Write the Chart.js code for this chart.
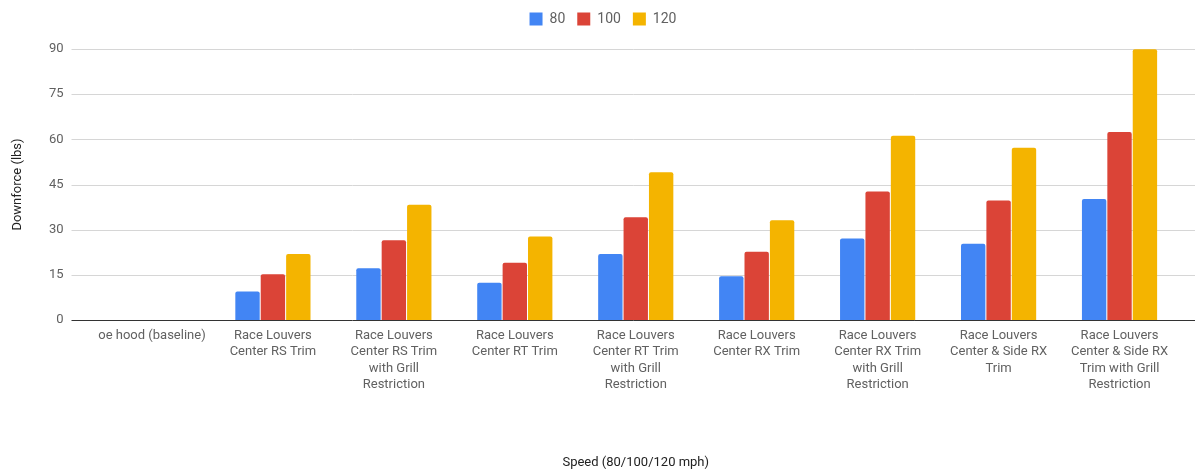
<!DOCTYPE html>
<html>
<head>
<meta charset="utf-8">
<script src="https://cdn.jsdelivr.net/npm/chart.js@4/dist/chart.umd.min.js"></script>
<style>
  html, body { margin: 0; padding: 0; background: #fff; }
  #wrap { width: 1195px; height: 474px; }
</style>
</head>
<body>
<div id="wrap"><canvas id="barChart" width="1195" height="474"></canvas></div>
<script>
// hood configurations tested
const categories = [
  'oe hood (baseline)',
  ['Race Louvers', 'Center RS Trim'],
  ['Race Louvers', 'Center RS Trim', 'with Grill', 'Restriction'],
  ['Race Louvers', 'Center RT Trim'],
  ['Race Louvers', 'Center RT Trim', 'with Grill', 'Restriction'],
  ['Race Louvers', 'Center RX Trim'],
  ['Race Louvers', 'Center RX Trim', 'with Grill', 'Restriction'],
  ['Race Louvers', 'Center & Side RX', 'Trim'],
  ['Race Louvers', 'Center & Side RX', 'Trim with Grill', 'Restriction']
];

// downforce (lbs) at each speed
const speed80  = [0, 9.5, 17.2, 12.4, 21.9, 14.5, 27.1, 25.3, 40.2];
const speed100 = [0, 15.2, 26.5, 19.0, 34.1, 22.7, 42.7, 39.7, 62.4];
const speed120 = [0, 21.9, 38.3, 27.7, 49.1, 33.1, 61.2, 57.2, 89.9];

const yTicks = [0, 15, 30, 45, 60, 75, 90];

var ctx = document.getElementById('barChart').getContext('2d');
var fontName = 'Roboto';
var textGrey = '#616161';

// horizontal grid spans wider than the bar area, with a dark baseline on top
var gridPlugin = {
  id: 'wideGrid',
  beforeUpdate: function(chart) {
    // leave some room under the legend row
    var lg = chart.legend;
    if (lg && !lg._extraRoom) {
      var fit = lg.fit;
      lg.fit = function() { fit.call(this); this.height += 13; };
      lg._extraRoom = true;
    }
  },
  afterLayout: function(chart) {
    chart.legend.left += 8;
    chart.legend.right += 8;
  },
  beforeDatasetsDraw: function(chart) {
    var y = chart.scales.y;
    var c = chart.ctx;
    c.save();
    c.strokeStyle = '#d6d6d6';
    c.lineWidth = 1;
    yTicks.forEach(function(v) {
      if (v === 0) return;
      var py = Math.round(y.getPixelForValue(v)) + 0.5;
      c.beginPath();
      c.moveTo(chart.chartArea.left - 20, py);
      c.lineTo(chart.width, py);
      c.stroke();
    });
    c.restore();
  },
  afterDatasetsDraw: function(chart) {
    var y = chart.scales.y;
    var c = chart.ctx;
    var py = Math.round(y.getPixelForValue(0)) + 0.5;
    c.save();
    c.strokeStyle = '#333333';
    c.lineWidth = 1;
    c.beginPath();
    c.moveTo(chart.chartArea.left - 20, py);
    c.lineTo(chart.width, py);
    c.stroke();
    c.restore();
  }
};

var myChart = new Chart(ctx, {
  type: 'bar',
  data: {
    labels: categories,
    datasets: [
      { label: '80',  data: speed80,  backgroundColor: '#4285f4' },
      { label: '100', data: speed100, backgroundColor: '#db4437' },
      { label: '120', data: speed120, backgroundColor: '#f4b400' }
    ]
  },
  options: {
    responsive: false,
    animation: false,
    categoryPercentage: 0.63,
    barPercentage: 0.96,
    borderRadius: 2,
    layout: { padding: { top: 0, right: 15, bottom: 0, left: 10 } },
    scales: {
      x: {
        grid: { display: false, drawTicks: false },
        border: { display: false },
        ticks: {
          color: textGrey,
          font: { family: fontName, size: 13, lineHeight: 1.28 },
          maxRotation: 0,
          autoSkip: false,
          padding: 7
        },
        title: {
          display: true,
          text: 'Speed (80/100/120 mph)',
          color: '#222',
          font: { family: fontName, size: 13 },
          padding: { top: 0, bottom: 3 }
        },
        afterFit: function(scale) { scale.height = 154; }
      },
      y: {
        min: 0,
        max: 90,
        grid: { display: false, drawTicks: false },
        border: { display: false },
        afterBuildTicks: function(scale) {
          scale.ticks = yTicks.map(function(v) { return { value: v }; });
        },
        ticks: {
          color: textGrey,
          font: { family: fontName, size: 13 },
          padding: 28
        },
        title: {
          display: true,
          text: 'Downforce (lbs)',
          color: '#222',
          font: { family: fontName, size: 13 },
          padding: { top: 0, bottom: 0 }
        },
        afterFit: function(scale) { scale.width = 81.5; }
      }
    },
    plugins: {
      legend: {
        position: 'top',
        align: 'center',
        labels: {
          boxWidth: 13,
          boxHeight: 13,
          padding: 12,
          color: textGrey,
          font: { family: fontName, size: 14 }
        }
      },
      tooltip: { enabled: false }
    }
  },
  plugins: [gridPlugin]
});
</script>
</body>
</html>
